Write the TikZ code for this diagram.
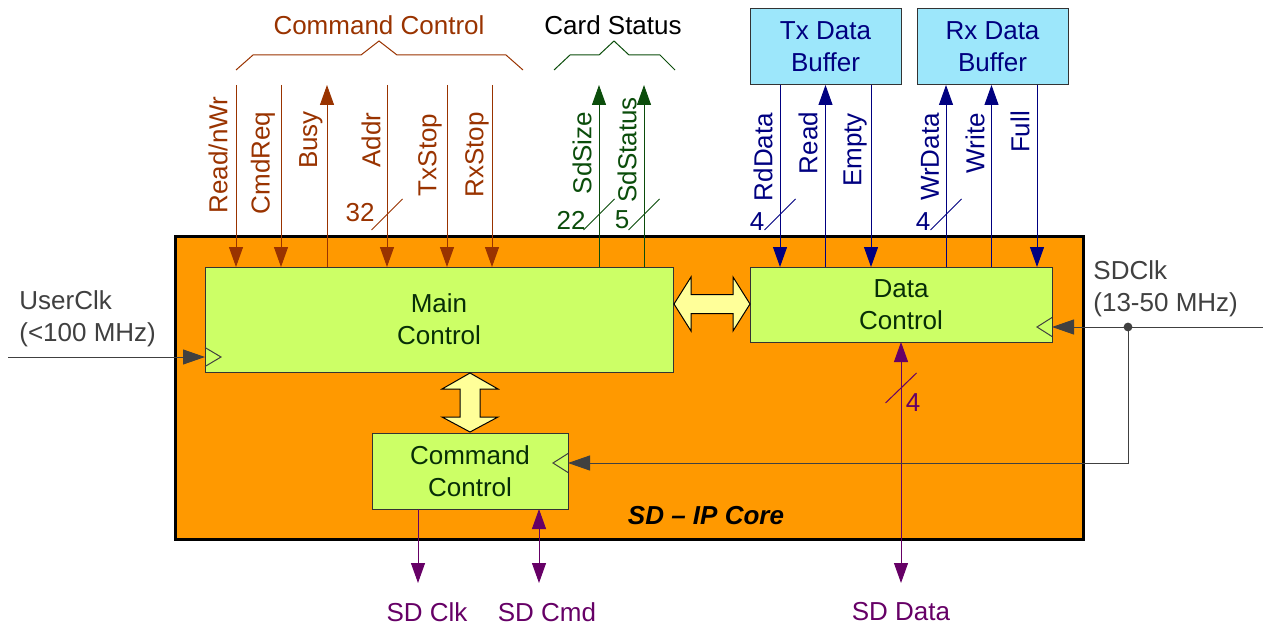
\documentclass[tikz,border=0pt]{standalone}
\usepackage{fontspec}
\setmainfont{Liberation Sans}
\usetikzlibrary{arrows.meta,positioning,calc}
\definecolor{cmdbrown}{HTML}{993300}
\definecolor{statgreen}{HTML}{0B4D0B}
\definecolor{bufblue}{HTML}{000080}
\definecolor{sdpurple}{HTML}{660066}
\definecolor{clkgray}{HTML}{404040}
\definecolor{corefill}{HTML}{FF9900}
\definecolor{blkfill}{HTML}{CCFF66}
\definecolor{buffill}{HTML}{9DE7FB}
\definecolor{busfill}{HTML}{FFFF99}
\tikzset{
	core/.style={draw=black, fill=corefill, line width=1.5pt, outer sep=0pt, inner sep=0pt},
	blk/.style={draw=black!80, fill=blkfill, line width=0.5pt, outer sep=0pt, inner sep=0pt, align=center, text=statgreen!60!black},
	bufbox/.style={draw=black!80, fill=buffill, line width=0.5pt, outer sep=0pt, inner sep=0pt, align=center, text=bufblue},
	sig/.style={line width=0.5pt},
	tipdown/.style={-{Triangle[length=10pt,width=7pt]}},
	tipup/.style={{Triangle[length=10pt,width=7pt]}-},
	tipboth/.style={{Triangle[length=10pt,width=7pt]}-{Triangle[length=10pt,width=7pt]}},
	siglabel/.style={rotate=90, inner sep=0pt},
	clk/.style={draw=clkgray, line width=0.5pt},
	clktip/.style={-{Triangle[length=11pt,width=7.5pt]}},
	bus/.style={draw=black, fill=busfill, line width=0.5pt}
}
\begin{document}
\begin{tikzpicture}[x=0.5pt, y=-0.5pt, font=\fontsize{13}{16}\selectfont]
	\useasboundingbox (0,0) rectangle (1263,626);
	
	\node[core, minimum width=454pt, minimum height=151.5pt] (core) at (629,387.5) {};
	\node[inner sep=0pt, font=\fontsize{13}{16}\selectfont\bfseries\itshape] (corelbl) at (706,516) {SD – IP Core};
	
	\node[blk, minimum width=234pt, minimum height=52.5pt] (mc) at (439,319.5) {Main\\Control};
	\node[blk, minimum width=151pt, minimum height=37.5pt] (dc) at (901,304.5) {Data\\Control};
	\node[blk, minimum width=98pt, minimum height=38pt] (cc) at (470,471) {Command\\Control};
	
	\node[bufbox, minimum width=75.5pt, minimum height=38pt] (tx) at (825.5,47) {Tx Data\\Buffer};
	\node[bufbox, minimum width=75.5pt, minimum height=38pt] (rx) at (992.5,47) {Rx Data\\Buffer};
	
	% internal buses
	\draw[bus] (674,304) -- (691,277) -- (691,294.5) -- (733,294.5) -- (733,277) -- (750,304)
		-- (733,331) -- (733,313.5) -- (691,313.5) -- (691,331) -- cycle;
	\draw[bus] (470,373) -- (498,389) -- (480,389) -- (480,417) -- (498,417) -- (470,432)
		-- (442,417) -- (460,417) -- (460,389) -- (442,389) -- cycle;
	
	% command control signals
	\node[cmdbrown] (cmdgrp) at (379,25) {Command Control};
	\draw[sig, cmdbrown] (236,70) -- (253,55) -- (361,55) -- (379,41) -- (397,55) -- (506,55) -- (523,70);
	\foreach \x/\nm in {236/rw,281/cr,387/ad,447/ts,492/rs}{
		\coordinate (\nm) at (\x,85);
		\draw[sig, cmdbrown, tipdown] (\nm) -- (\nm |- mc.north);
	}
	\coordinate (bs) at (327,85);
	\draw[sig, cmdbrown, tipup] (bs) -- (bs |- mc.north);
	\node[siglabel, cmdbrown] (rw-lbl) at (218,155) {Read/nWr};
	\node[siglabel, cmdbrown] (cr-lbl) at (263,163) {CmdReq};
	\node[siglabel, cmdbrown] (bs-lbl) at (311,140) {Busy};
	\node[siglabel, cmdbrown] (ad-lbl) at (371,140) {Addr};
	\node[siglabel, cmdbrown] (ts-lbl) at (430,155) {TxStop};
	\node[siglabel, cmdbrown] (rs-lbl) at (477,155) {RxStop};
	\draw[sig, cmdbrown] (371.5,230) -- (402.5,199);
	\node[cmdbrown, inner sep=0pt] (ad-w) at (360,213) {32};
	
	% card status
	\node (statgrp) at (613,25) {Card Status};
	\draw[sig, statgreen] (554,70) -- (570,55) -- (599,55) -- (614,41) -- (629,55) -- (660,55) -- (675,70);
	\coordinate (sz) at (599,85);
	\coordinate (st) at (644,85);
	\draw[sig, statgreen, tipup] (sz) -- (sz |- mc.north);
	\draw[sig, statgreen, tipup] (st) -- (st |- mc.north);
	\node[siglabel, statgreen] (sz-lbl) at (582,153) {SdSize};
	\node[siglabel, statgreen] (st-lbl) at (627,150) {SdStatus};
	\draw[sig, statgreen] (583.5,230) -- (614.5,199);
	\draw[sig, statgreen] (628.5,230) -- (659.5,199);
	\node[statgreen, inner sep=0pt] (sz-w) at (571,220) {22};
	\node[statgreen, inner sep=0pt] (st-w) at (622,220) {5};
	
	% data buffers
	\foreach \x/\nm in {780/rd,871/em}{
		\coordinate (\nm) at (\x,85);
		\draw[sig, bufblue, tipdown] (\nm |- tx.south) -- (\nm |- dc.north);
	}
	\coordinate (rdy) at (825.5,85);
	\draw[sig, bufblue, tipup] (rdy |- tx.south) -- (rdy |- dc.north);
	\coordinate (wrd) at (946,85);
	\coordinate (wr) at (991.5,85);
	\coordinate (fl) at (1037,85);
	\draw[sig, bufblue, tipup] (wrd |- rx.south) -- (wrd |- dc.north);
	\draw[sig, bufblue, tipup] (wr |- rx.south) -- (wr |- dc.north);
	\draw[sig, bufblue, tipdown] (fl |- rx.south) -- (fl |- dc.north);
	\node[siglabel, bufblue] (rd-lbl) at (763,157) {RdData};
	\node[siglabel, bufblue] (rdy-lbl) at (808,143) {Read};
	\node[siglabel, bufblue] (em-lbl) at (855,150) {Empty};
	\node[siglabel, bufblue] (wrd-lbl) at (930,157) {WrData};
	\node[siglabel, bufblue] (wr-lbl) at (975,143) {Write};
	\node[siglabel, bufblue] (fl-lbl) at (1020,132) {Full};
	\draw[sig, bufblue] (764.5,230) -- (795.5,199);
	\draw[sig, bufblue] (930.5,230) -- (961.5,199);
	\node[bufblue, inner sep=0pt] (rd-w) at (757,222) {4};
	\node[bufblue, inner sep=0pt] (wrd-w) at (923,222) {4};
	
	% SD card pins
	\coordinate (sdclk) at (418,583);
	\coordinate (sdcmd) at (539,583);
	\coordinate (sddat) at (901,583);
	\draw[sig, sdpurple, tipdown] (sdclk |- cc.south) -- (sdclk);
	\draw[sig, sdpurple, tipboth] (sdcmd |- cc.south) -- (sdcmd);
	\draw[sig, sdpurple, tipboth] (sddat |- dc.south) -- (sddat);
	\draw[sig, sdpurple] (885.5,403) -- (916.5,373);
	\node[sdpurple, inner sep=0pt] (sddat-w) at (913,403) {4};
	\node[sdpurple] (sdclk-lbl) at (427,612) {SD Clk};
	\node[sdpurple] (sdcmd-lbl) at (547,612) {SD Cmd};
	\node[sdpurple] (sddat-lbl) at (901,612) {SD Data};
	
	% clocks
	\node[clkgray, align=left, anchor=west, inner sep=0pt] (uclk-lbl) at (19,318.5) {UserClk\\(<100 MHz)};
	\coordinate (ucin) at (8,357);
	\draw[clk, clktip] (ucin) -- (ucin -| mc.west);
	\draw[clk] (ucin -| mc.west) ++(0,-9.5) -- ++(16,9.5) -- ++(-16,9.5);
	
	\node[clkgray, align=left, anchor=west, inner sep=0pt] (sdclk-in-lbl) at (1093,288.5) {SDClk\\(13-50 MHz)};
	\coordinate (sdin) at (1263,327);
	\coordinate (sdjoin) at (1128,327);
	\coordinate (ccclk) at (568,463);
	\draw[clk] (sdin) -- (sdjoin);
	\draw[clk, clktip] (sdjoin) -- (sdjoin -| dc.east);
	\draw[clk, clktip] (sdjoin) |- (ccclk);
	\fill[clkgray] (sdjoin) circle[radius=2.2pt];
	\draw[clk] (sdjoin -| dc.east) ++(0,-9.5) -- ++(-15,9.5) -- ++(15,9.5);
	\draw[clk] (ccclk) ++(0,-9.5) -- ++(-15,9.5) -- ++(15,9.5);
\end{tikzpicture}
\end{document}
